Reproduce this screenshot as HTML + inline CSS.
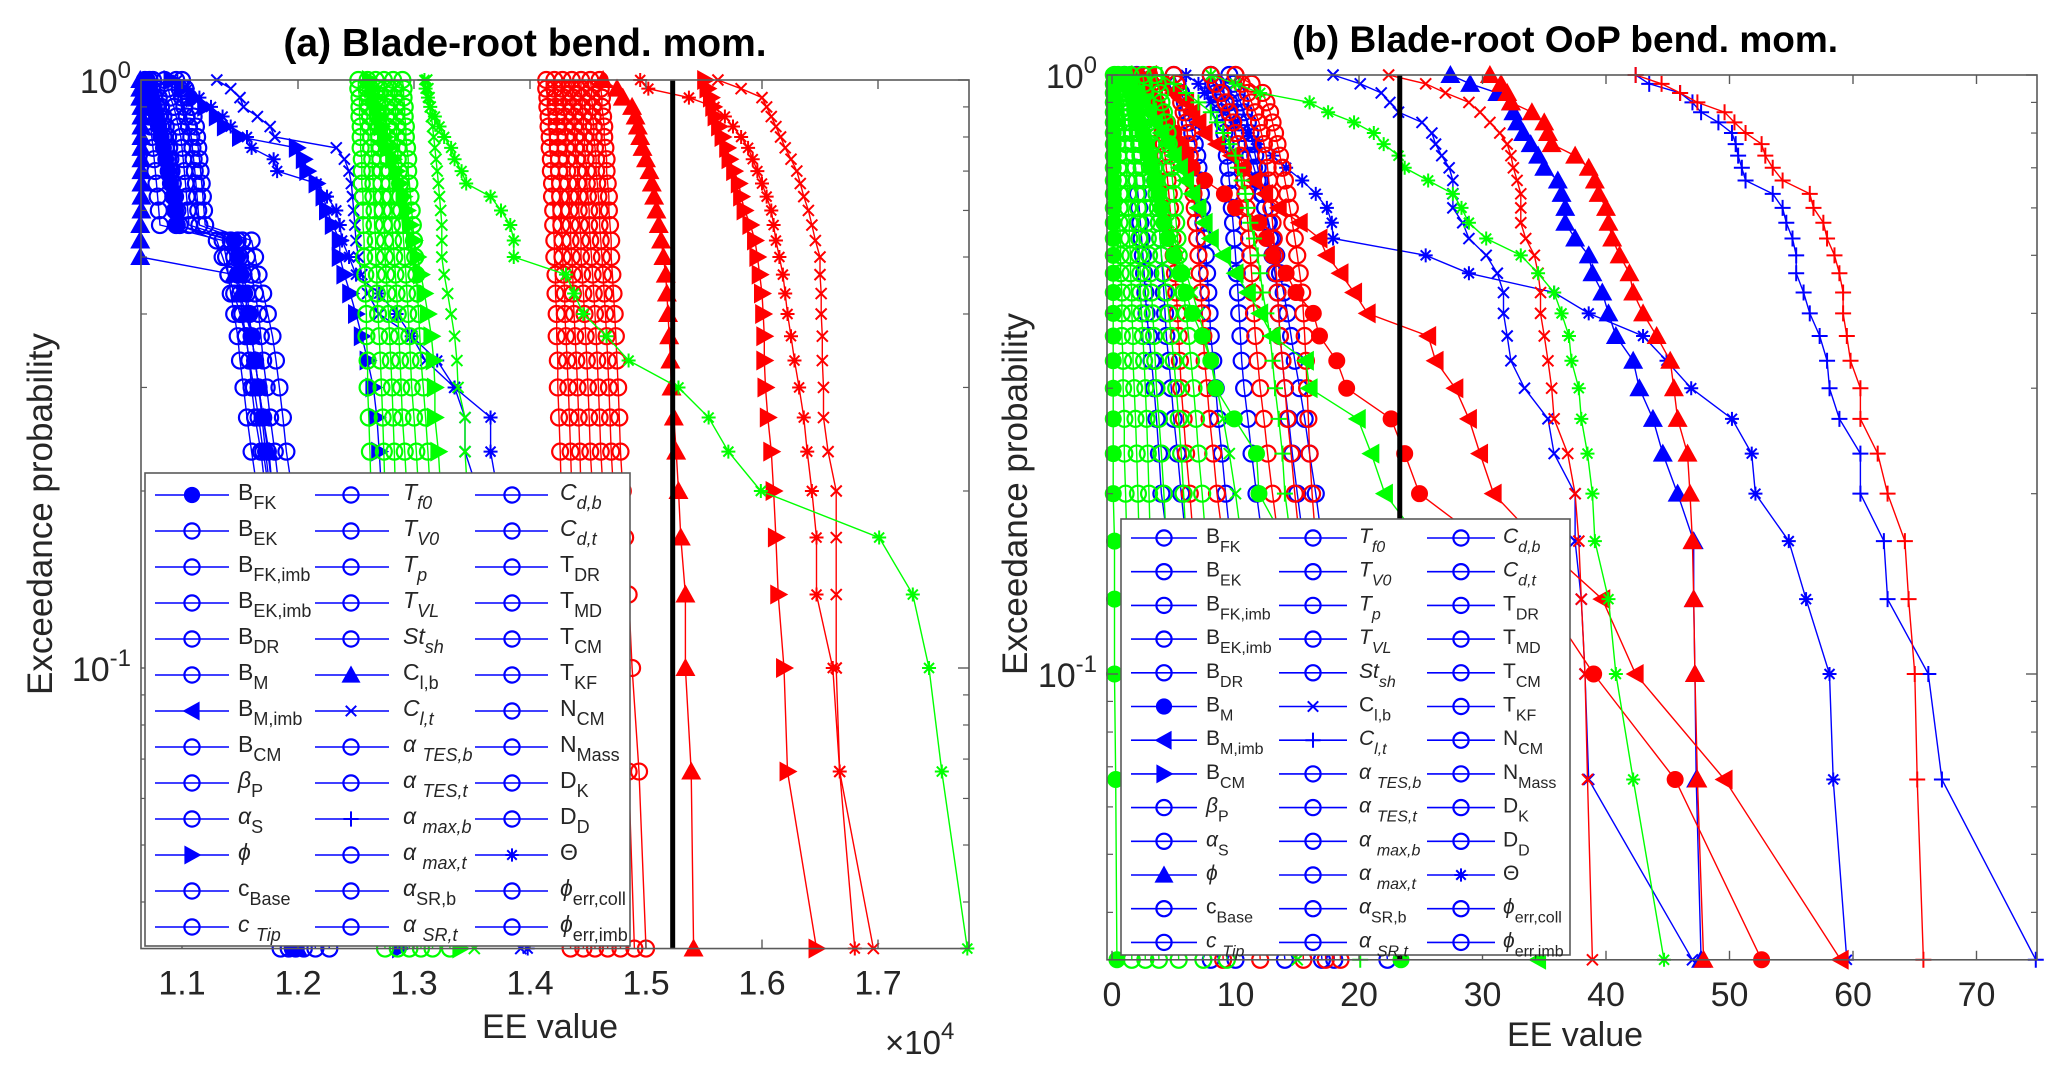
<!DOCTYPE html>
<html><head><meta charset="utf-8"><style>
html,body{margin:0;padding:0;background:#fff;}
svg{display:block;font-family:"Liberation Sans",Arial,sans-serif;}
</style></head><body>
<svg id="fig" width="2067" height="1073" viewBox="0 0 2067 1073" xmlns="http://www.w3.org/2000/svg">
<rect x="0" y="0" width="2067" height="1073" fill="#fff"/>
<g id="left-panel"></g>
<g id="right-panel"></g>
</svg>
<script>
// ---------- DATA: left panel (a), values x1e4, sorted ascending (p = 1 .. 1/30) ----------
const probLevels = [30,29,28,27,26,25,24,23,22,21,20,19,18,17,16,15,14,13,12,11,10,9,8,7,6,5,4,3,2,1];
const leftXTicks = [1.1,1.2,1.3,1.4,1.5,1.6,1.7];
const leftXTickLabels = ["1.1","1.2","1.3","1.4","1.5","1.6","1.7"];
const leftThreshold = 1.523;
const aBlueC1 = [1.068,1.069,1.070,1.071,1.072,1.073,1.074,1.075,1.076,1.077,1.078,1.079,1.080,1.081,1.135,1.138,1.140,1.142,1.145,1.148,1.150,1.153,1.156,1.160,1.165,1.170,1.175,1.180,1.182,1.185];
const aBlueC2 = [1.075,1.078,1.080,1.082,1.084,1.086,1.088,1.089,1.090,1.091,1.092,1.093,1.094,1.095,1.142,1.145,1.148,1.150,1.152,1.155,1.158,1.160,1.163,1.168,1.172,1.176,1.180,1.185,1.188,1.192];
const aBlueC3 = [1.085,1.088,1.090,1.093,1.095,1.097,1.099,1.100,1.101,1.102,1.103,1.104,1.105,1.106,1.148,1.150,1.153,1.156,1.158,1.160,1.163,1.166,1.170,1.174,1.178,1.182,1.186,1.190,1.195,1.205];
const aBlueC4 = [1.095,1.098,1.100,1.102,1.104,1.106,1.108,1.109,1.110,1.111,1.112,1.113,1.114,1.115,1.152,1.156,1.160,1.163,1.166,1.168,1.170,1.173,1.176,1.180,1.184,1.188,1.192,1.196,1.205,1.215];
const aBlueC5 = [1.072,1.074,1.076,1.078,1.080,1.082,1.084,1.086,1.088,1.090,1.092,1.094,1.096,1.098,1.130,1.135,1.140,1.145,1.150,1.155,1.158,1.162,1.166,1.170,1.175,1.180,1.184,1.188,1.192,1.198];
const aBlueC6 = [1.100,1.103,1.106,1.108,1.110,1.112,1.113,1.114,1.115,1.116,1.117,1.118,1.119,1.120,1.160,1.163,1.166,1.170,1.174,1.178,1.181,1.184,1.187,1.190,1.195,1.200,1.205,1.210,1.218,1.227];
const aBlueFilled = [1.070,1.072,1.074,1.076,1.078,1.080,1.082,1.084,1.086,1.088,1.090,1.092,1.094,1.096,1.145,1.148,1.151,1.154,1.157,1.160,1.163,1.166,1.169,1.172,1.176,1.180,1.184,1.188,1.191,1.195];
const aBlueTri = [1.064,1.064,1.064,1.065,1.065,1.065,1.065,1.065,1.065,1.065,1.065,1.065,1.065,1.064,1.064,1.064,1.145,1.150,1.155,1.160,1.163,1.166,1.170,1.175,1.178,1.182,1.186,1.190,1.195,1.200];
const aBlueX = [1.130,1.142,1.150,1.153,1.165,1.176,1.180,1.233,1.240,1.244,1.246,1.247,1.248,1.249,1.250,1.252,1.255,1.260,1.270,1.298,1.310,1.335,1.344,1.344,1.355,1.365,1.370,1.375,1.380,1.392];
const aBlueStar = [1.096,1.105,1.115,1.125,1.135,1.142,1.156,1.160,1.179,1.182,1.216,1.225,1.233,1.236,1.238,1.244,1.250,1.270,1.285,1.298,1.320,1.335,1.366,1.366,1.372,1.378,1.383,1.388,1.392,1.398];
const aBlueRight = [1.091,1.100,1.110,1.120,1.130,1.137,1.150,1.199,1.205,1.208,1.216,1.222,1.225,1.230,1.236,1.236,1.240,1.245,1.250,1.255,1.260,1.265,1.268,1.270,1.272,1.275,1.278,1.280,1.283,1.288];
const aGreenC1 = [1.252,1.252,1.253,1.253,1.253,1.254,1.254,1.254,1.255,1.255,1.255,1.256,1.256,1.256,1.257,1.257,1.258,1.258,1.259,1.259,1.260,1.260,1.261,1.262,1.263,1.264,1.265,1.267,1.270,1.275];
const aGreenC2 = [1.260,1.260,1.261,1.261,1.262,1.262,1.263,1.263,1.264,1.264,1.265,1.265,1.266,1.266,1.267,1.267,1.268,1.268,1.269,1.270,1.271,1.272,1.273,1.274,1.275,1.276,1.278,1.280,1.282,1.286];
const aGreenC3 = [1.267,1.268,1.268,1.269,1.269,1.270,1.270,1.271,1.271,1.272,1.272,1.273,1.273,1.274,1.275,1.275,1.276,1.277,1.278,1.279,1.280,1.281,1.282,1.283,1.284,1.286,1.288,1.290,1.292,1.296];
const aGreenC4 = [1.274,1.275,1.275,1.276,1.276,1.277,1.277,1.278,1.278,1.279,1.279,1.280,1.281,1.281,1.282,1.283,1.284,1.285,1.286,1.287,1.288,1.289,1.290,1.292,1.294,1.296,1.298,1.300,1.302,1.306];
const aGreenC5 = [1.282,1.283,1.283,1.284,1.284,1.285,1.285,1.286,1.286,1.287,1.288,1.288,1.289,1.290,1.291,1.292,1.293,1.294,1.295,1.296,1.297,1.298,1.300,1.302,1.304,1.306,1.308,1.310,1.312,1.316];
const aGreenC6 = [1.290,1.291,1.291,1.292,1.292,1.293,1.293,1.294,1.295,1.295,1.296,1.297,1.298,1.299,1.300,1.301,1.302,1.303,1.304,1.305,1.306,1.308,1.310,1.312,1.314,1.316,1.318,1.321,1.325,1.331];
const aGreenRight = [1.262,1.264,1.266,1.268,1.270,1.272,1.275,1.278,1.282,1.285,1.288,1.291,1.294,1.297,1.300,1.303,1.306,1.309,1.312,1.315,1.317,1.318,1.318,1.321,1.323,1.325,1.327,1.330,1.334,1.340];
const aGreenX = [1.311,1.312,1.313,1.314,1.315,1.316,1.317,1.318,1.319,1.320,1.321,1.322,1.323,1.324,1.324,1.324,1.326,1.329,1.332,1.335,1.337,1.338,1.344,1.344,1.346,1.347,1.348,1.349,1.350,1.352];
const aGreenStar = [1.309,1.310,1.312,1.314,1.318,1.322,1.326,1.332,1.335,1.341,1.345,1.366,1.375,1.383,1.386,1.386,1.431,1.438,1.446,1.466,1.485,1.528,1.554,1.571,1.599,1.701,1.730,1.744,1.755,1.777];
const aRedC1 = [1.414,1.414,1.415,1.415,1.416,1.416,1.417,1.417,1.418,1.418,1.419,1.419,1.420,1.420,1.421,1.421,1.422,1.422,1.423,1.423,1.424,1.424,1.425,1.426,1.427,1.428,1.429,1.430,1.432,1.435];
const aRedC2 = [1.421,1.421,1.422,1.422,1.423,1.423,1.424,1.424,1.425,1.425,1.426,1.426,1.427,1.427,1.428,1.428,1.429,1.430,1.430,1.431,1.432,1.433,1.434,1.435,1.436,1.437,1.438,1.440,1.442,1.446];
const aRedC3 = [1.428,1.428,1.429,1.429,1.430,1.430,1.431,1.431,1.432,1.432,1.433,1.434,1.434,1.435,1.435,1.436,1.437,1.437,1.438,1.439,1.440,1.441,1.442,1.443,1.444,1.446,1.448,1.450,1.452,1.456];
const aRedC4 = [1.436,1.436,1.437,1.437,1.438,1.438,1.439,1.439,1.440,1.441,1.441,1.442,1.442,1.443,1.444,1.444,1.445,1.446,1.447,1.448,1.449,1.450,1.451,1.452,1.454,1.456,1.458,1.460,1.463,1.467];
const aRedC5 = [1.444,1.444,1.445,1.445,1.446,1.446,1.447,1.447,1.448,1.449,1.449,1.450,1.451,1.451,1.452,1.453,1.454,1.455,1.456,1.457,1.458,1.459,1.460,1.461,1.463,1.465,1.467,1.470,1.474,1.478];
const aRedC6 = [1.452,1.453,1.453,1.454,1.454,1.455,1.455,1.456,1.457,1.457,1.458,1.459,1.460,1.460,1.461,1.462,1.463,1.464,1.465,1.466,1.467,1.468,1.469,1.470,1.472,1.474,1.476,1.479,1.485,1.490];
const aRedC7 = [1.460,1.461,1.462,1.462,1.463,1.464,1.464,1.465,1.466,1.466,1.467,1.468,1.468,1.469,1.470,1.470,1.471,1.472,1.473,1.474,1.475,1.476,1.477,1.478,1.480,1.482,1.485,1.488,1.494,1.500];
const aRedTri = [1.463,1.475,1.480,1.488,1.491,1.493,1.495,1.497,1.500,1.503,1.505,1.507,1.509,1.511,1.513,1.515,1.517,1.518,1.519,1.520,1.521,1.522,1.524,1.526,1.528,1.530,1.534,1.534,1.539,1.541];
const aRedRight = [1.551,1.553,1.556,1.558,1.560,1.563,1.566,1.570,1.572,1.576,1.580,1.582,1.585,1.590,1.594,1.596,1.598,1.600,1.601,1.602,1.602,1.603,1.605,1.608,1.610,1.612,1.614,1.619,1.622,1.647];
const aRedStar = [1.495,1.502,1.537,1.559,1.568,1.575,1.582,1.588,1.592,1.596,1.600,1.604,1.608,1.610,1.612,1.615,1.618,1.620,1.622,1.625,1.628,1.632,1.636,1.639,1.643,1.647,1.647,1.661,1.667,1.680];
const aRedX = [1.562,1.582,1.600,1.604,1.608,1.612,1.616,1.620,1.625,1.630,1.633,1.636,1.640,1.643,1.646,1.650,1.650,1.651,1.651,1.652,1.652,1.653,1.653,1.657,1.664,1.664,1.664,1.664,1.667,1.696];

// ---------- DATA: right panel (b) ----------
const rightXTicks = [0,10,20,30,40,50,60,70];
const rightXTickLabels = ["0","10","20","30","40","50","60","70"];
const rightThreshold = 23.3;
const bBlueC1 = [1.0,1.1,1.2,1.3,1.4,1.5,1.6,1.7,1.8,1.9,2.0,2.1,2.2,2.3,2.4,2.5,2.6,2.7,2.8,3.0,3.2,3.4,3.6,3.8,4.0,4.5,5.0,5.5,6.5,8.0];
const bBlueC2 = [2.0,2.2,2.4,2.6,2.8,3.0,3.1,3.2,3.3,3.4,3.5,3.6,3.7,3.8,3.9,4.0,4.1,4.2,4.3,4.4,4.6,4.8,5.0,5.3,5.6,6.0,6.5,7.2,8.5,10.0];
const bBlueC3 = [5.0,5.3,5.6,5.9,6.1,6.3,6.5,6.7,6.9,7.0,7.1,7.2,7.3,7.4,7.5,7.6,7.7,7.8,7.9,8.0,8.2,8.4,8.6,8.9,9.2,9.6,10.2,11.0,12.5,14.0];
const bBlueC4 = [8.0,8.2,8.4,8.6,8.8,9.0,9.1,9.2,9.3,9.4,9.5,9.6,9.7,9.8,9.9,10.0,10.1,10.2,10.3,10.4,10.5,10.7,11.0,11.3,11.7,12.2,13.0,14.0,15.5,17.0];
const bBlueC5 = [9.5,9.8,10.1,10.4,10.7,11.0,11.2,11.4,11.6,11.8,12.0,12.2,12.4,12.6,12.8,13.0,13.2,13.4,13.5,13.6,13.8,14.0,14.3,14.6,15.0,15.5,16.0,16.8,17.5,18.0];
const bBlueC6 = [8.0,8.5,9.0,9.5,10.0,10.3,10.6,10.9,11.2,11.5,11.8,12.1,12.4,12.7,13.0,13.3,13.6,13.9,14.2,14.5,14.8,15.2,15.6,16.0,16.5,17.0,18.0,19.5,21.0,22.3];
const bBlueX = [17.9,20.1,21.8,22.5,23.2,25.1,25.9,26.2,26.7,27.3,27.6,27.6,27.6,28.4,28.9,30.3,31.2,31.7,31.7,32.0,32.3,33.4,35.3,35.8,37.5,37.5,38.0,38.3,38.6,47.0];
const bBlueTri = [27.4,29.0,31.2,32.3,32.5,32.8,33.3,33.9,34.5,35.0,36.1,36.4,36.7,36.7,37.5,38.6,38.9,39.7,40.2,40.8,42.2,42.7,43.8,44.6,45.8,47.1,47.1,47.2,47.3,47.7];
const bBlueStar = [6,7,7.5,8,9,10,11,11.8,13,14.1,15.4,16.5,17.4,17.8,17.9,25.4,28.9,35.8,38.6,43,44.9,46.9,50.2,51.8,52.1,54.8,56.2,58.1,58.4,59.5];
const bBluePlus = [42.4,43.5,46.0,47.0,47.7,49.1,50.2,50.5,50.7,51.0,51.3,53.5,54.3,54.6,55.1,55.4,55.4,56.0,56.5,57.3,57.9,58.1,58.9,60.6,60.6,62.5,62.8,66.1,67.2,74.8];
const bRedC1 = [3.0,3.2,3.4,3.6,3.8,4.0,4.1,4.2,4.3,4.4,4.5,4.6,4.7,4.8,4.9,5.0,5.1,5.2,5.3,5.4,5.5,5.6,5.8,6.0,6.3,6.6,7.0,7.6,8.3,9.0];
const bRedC2 = [5.0,5.2,5.4,5.6,5.8,6.0,6.1,6.2,6.3,6.4,6.5,6.6,6.7,6.8,6.9,7.0,7.1,7.2,7.3,7.4,7.5,7.7,7.9,8.2,8.5,9.0,9.6,10.4,11.2,12.0];
const bRedC3 = [8.0,8.4,8.8,9.2,9.5,9.8,10.0,10.2,10.4,10.6,10.7,10.8,10.9,11.0,11.1,11.2,11.3,11.4,11.5,11.6,11.8,12.0,12.3,12.6,13.0,13.5,14.0,14.5,15.0,15.5];
const bRedC4 = [10.0,10.5,11.0,11.3,11.6,11.9,12.1,12.3,12.5,12.6,12.7,12.8,12.9,13.0,13.1,13.2,13.3,13.4,13.5,13.6,13.8,14.0,14.2,14.5,14.8,15.2,15.7,16.2,16.8,17.3];
const bRedC5 = [10.0,11.3,12.2,12.5,12.8,13.0,13.2,13.4,13.6,13.8,14.0,14.2,14.4,14.6,14.8,15.0,15.2,15.4,15.5,15.6,15.7,15.8,15.9,16.0,16.2,16.5,16.9,17.4,18.0,18.5];
const bRedX = [22.4,25.4,27.0,28.9,29.8,30.6,31.4,32.0,32.3,32.5,32.8,33.1,33.1,33.1,33.5,34.2,34.5,34.7,34.7,35.0,35.3,35.6,35.8,36.9,37.5,37.8,38.0,38.3,38.5,38.9];
const bRedTri = [30.6,31.5,32.0,32.3,34.0,35.0,35.3,35.6,37.5,38.6,39.1,39.4,40.0,40.2,40.5,41.1,41.9,42.2,43.0,44.1,45.2,45.5,45.8,46.6,46.8,47.0,47.1,47.2,47.4,47.9];
const bRedLeft = [3,4,5,6,6.5,7,7.5,8.5,9.7,10.5,11.5,12.4,13.5,15.2,16.8,17.4,18.5,19.6,20.7,25.6,26.2,27.8,28.9,29.8,30.9,34.5,39.7,42.4,49.6,59.0];
const bRedFilled = [2,2.5,3,3.5,4,4.5,5,5.5,6,6.5,7.5,9.1,10,11.9,12.5,13,14.1,14.9,16.3,16.8,18.2,19,22.6,23.7,24.9,30,35,39.0,45.6,52.6];
const bRedPlus = [42.4,44.5,46.0,47.4,49.6,50.4,51.3,52.6,52.9,53.5,54.3,56.5,56.8,57.6,57.9,58.5,58.9,59.2,59.2,59.5,59.8,60.6,60.6,62.0,62.8,64.2,64.5,65.0,65.2,65.7];
const bGreenC1 = [0.2,0.2,0.3,0.3,0.3,0.4,0.4,0.4,0.5,0.5,0.5,0.6,0.6,0.6,0.7,0.7,0.7,0.8,0.8,0.8,0.9,0.9,1.0,1.0,1.1,1.2,1.3,1.4,1.5,1.6];
const bGreenC2 = [0.5,0.6,0.7,0.8,0.9,1.0,1.0,1.1,1.1,1.2,1.2,1.3,1.3,1.4,1.4,1.5,1.5,1.6,1.6,1.7,1.7,1.8,1.9,2.0,2.1,2.2,2.3,2.4,2.5,2.7];
const bGreenC3 = [1.0,1.1,1.2,1.3,1.4,1.5,1.6,1.7,1.8,1.9,2.0,2.0,2.1,2.1,2.2,2.2,2.3,2.3,2.4,2.5,2.6,2.7,2.8,2.9,3.0,3.1,3.2,3.3,3.5,3.8];
const bGreenC4 = [1.5,1.6,1.7,1.8,1.9,2.0,2.1,2.2,2.3,2.4,2.5,2.6,2.7,2.8,2.9,3.0,3.1,3.2,3.3,3.4,3.5,3.6,3.8,4.0,4.2,4.4,4.6,4.8,5.0,5.4];
const bGreenC5 = [2.5,2.6,2.7,2.8,2.9,3.0,3.1,3.2,3.3,3.4,3.5,3.6,3.7,3.8,3.9,4.0,4.2,4.4,4.6,4.8,5.0,5.2,5.4,5.6,5.8,6.0,6.3,6.6,7.0,7.4];
const bGreenC6 = [3.5,3.7,3.9,4.0,4.2,4.4,4.5,4.6,4.7,4.8,4.9,5.0,5.1,5.2,5.3,5.4,5.6,5.8,6.0,6.2,6.4,6.6,6.8,7.0,7.3,7.6,8.0,8.4,8.8,9.3];
const bGreenFilled0 = [0.1,0.1,0.1,0.1,0.1,0.1,0.1,0.1,0.1,0.1,0.1,0.1,0.1,0.1,0.1,0.1,0.1,0.1,0.1,0.1,0.1,0.1,0.1,0.1,0.1,0.2,0.2,0.2,0.3,0.4];
const bGreenFilled = [1,1.2,1.5,1.8,2,2.2,2.5,2.8,3,3.2,3.5,3.8,4,4.2,4.5,5,5.5,6,6.5,7.3,8,8.4,9.9,11.7,11.9,14,16,19,21,23.4];
const bGreenPlus = [4,5,6,7,8,8.5,9,9.5,10,10.2,10.5,10.8,11,11.2,11.5,11.8,12,12.2,12.5,12.8,13,13.2,13.5,13.8,14,14.5,15,16,17,20.1];
const bGreenX = [1,1.5,2,2.2,2.5,2.8,3,3.2,3.4,3.6,3.8,4,4.3,4.6,5,5.5,6,6.5,7,7.5,8,8.5,9,9.5,10,10.5,11,12,13,15];
const bGreenLeft = [1,1.5,2,2.5,3,3.5,4,4.5,5,5.5,6,6.5,7,7.5,8,9,10,11,12,13,15.7,16,19.9,21,22.1,25,28,31,33,34.5];
const bGreenStar = [8,10,12,16,17.5,19.6,21.2,22,23.2,23.7,25.6,27.6,28.3,28.9,30.3,33.1,34.5,35.8,36.4,37,37.2,37.8,38,38.5,38.9,39.1,40.2,40.8,42.2,44.7];

const BLUE="#0000ff", RED="#ff0000", GREEN="#00ff00";
const SVGNS="http://www.w3.org/2000/svg";

function el(tag, attrs, parent){
  const e=document.createElementNS(SVGNS,tag);
  for(const k in attrs) e.setAttribute(k, attrs[k]);
  if(parent) parent.appendChild(e);
  return e;
}

// ---------- axis functions ----------
const L = {x0:141, x1:969, top:80, dec:588,
  xs:function(v){return 182+(v-1.1)*1160;},
  ys:function(p){return 80-Math.log10(p)*588;}};
const R = {x0:1107, x1:2037, top:75, dec:599,
  xs:function(v){return 1112+v*12.35;},
  ys:function(p){return 75-Math.log10(p)*599;}};
L.bottom = L.ys(1/30); R.bottom = R.ys(1/30);

function drawMarker(g, m, x, y, c, s){
  s = s||1;
  let e;
  if(m==='o'){ e=el('circle',{cx:x,cy:y,r:8*s,fill:'none',stroke:c,'stroke-width':2.2},g); }
  else if(m==='of'){ e=el('circle',{cx:x,cy:y,r:8*s,fill:c,stroke:c,'stroke-width':1},g); }
  else if(m==='^'){ const h=10*s; e=el('polygon',{points:`${x},${y-h} ${x-h},${y+h*0.8} ${x+h},${y+h*0.8}`,fill:c},g); }
  else if(m==='>'){ const h=10*s; e=el('polygon',{points:`${x+h},${y} ${x-h*0.8},${y-h} ${x-h*0.8},${y+h}`,fill:c},g); }
  else if(m==='<'){ const h=10*s; e=el('polygon',{points:`${x-h},${y} ${x+h*0.8},${y-h} ${x+h*0.8},${y+h}`,fill:c},g); }
  else if(m==='x'){ const h=5.5*s; e=el('path',{d:`M${x-h},${y-h}L${x+h},${y+h}M${x-h},${y+h}L${x+h},${y-h}`,stroke:c,'stroke-width':2,fill:'none'},g); }
  else if(m==='+'){ const h=8*s; e=el('path',{d:`M${x-h},${y}L${x+h},${y}M${x},${y-h}L${x},${y+h}`,stroke:c,'stroke-width':2,fill:'none'},g); }
  else if(m==='*'){ const h=7*s, d=5*s; e=el('path',{d:`M${x-h},${y}L${x+h},${y}M${x},${y-h}L${x},${y+h}M${x-d},${y-d}L${x+d},${y+d}M${x-d},${y+d}L${x+d},${y-d}`,stroke:c,'stroke-width':2,fill:'none'},g); }
  return e;
}

function drawSeries(g, ax, vals, color, m, name){
  const sg = el('g',{},g);
  
  
  let d='';
  vals.forEach((v,i)=>{ const p=probLevels[i]/30; d+=(i?'L':'M')+ax.xs(v).toFixed(1)+','+ax.ys(p).toFixed(1); });
  const ln = el('path',{d:d,fill:'none',stroke:color,'stroke-width':1.4},sg);
  
  
  vals.forEach((v,i)=>{ const p=probLevels[i]/30; drawMarker(sg,m,ax.xs(v),ax.ys(p),color); });
}

function drawAxes(g, ax, ticks, labels, side){
  const ag = el('g',{},g);
  
  
  const stroke='#5a5a5a';
  el('rect',{x:ax.x0,y:ax.top,width:ax.x1-ax.x0,height:ax.bottom-ax.top,fill:'none',stroke:stroke,'stroke-width':1.6},ag);
  ticks.forEach((t,i)=>{
    const x=ax.xs(t);
    el('line',{x1:x,y1:ax.bottom,x2:x,y2:ax.bottom-9,stroke:stroke,'stroke-width':1.4},ag);
    el('line',{x1:x,y1:ax.top,x2:x,y2:ax.top+9,stroke:stroke,'stroke-width':1.4},ag);
    const tx = el('text',{x:x,y:ax.bottom+46,'font-size':34,'text-anchor':'middle',fill:'#262626'},ag);
    tx.textContent = labels[i];
    
    
  });
  const minors=[0.04,0.05,0.06,0.07,0.08,0.09,0.2,0.3,0.4,0.5,0.6,0.7,0.8,0.9];
  minors.forEach(p=>{
    const y=ax.ys(p);
    el('line',{x1:ax.x0,y1:y,x2:ax.x0+6,y2:y,stroke:stroke,'stroke-width':1.2},ag);
    el('line',{x1:ax.x1,y1:y,x2:ax.x1-6,y2:y,stroke:stroke,'stroke-width':1.2},ag);
  });
  [[1,'0'],[0.1,'-1']].forEach(([p,ex])=>{
    const y=ax.ys(p);
    el('line',{x1:ax.x0,y1:y,x2:ax.x0+11,y2:y,stroke:stroke,'stroke-width':1.4},ag);
    el('line',{x1:ax.x1,y1:y,x2:ax.x1-11,y2:y,stroke:stroke,'stroke-width':1.4},ag);
    const t = el('text',{x:ax.x0-10,y:y+13,'font-size':34,'text-anchor':'end',fill:'#262626'},ag);
    
    
    const t1=el('tspan',{},t); t1.textContent='10';
    const t2=el('tspan',{dy:-15,'font-size':24},t); t2.textContent=ex;
  });
}

function legendEntry(g, x, y, m, lbl, sub, italicMain, italicSub, sizes){
  const eg = el('g',{},g);
  
  
  el('line',{x1:x.l0,y1:y,x2:x.l1,y2:y,stroke:BLUE,'stroke-width':1.6},eg);
  drawMarker(eg,m,x.m,y,BLUE,0.95);
  const t=el('text',{x:x.t,y:y+5,'font-size':sizes[0],fill:'#262626'},eg);
  const a=el('tspan',{'font-style':italicMain?'italic':'normal'},t); a.textContent=lbl;
  const b=el('tspan',{dy:9,'font-size':sizes[1],'font-style':italicSub?'italic':'normal'},t); b.textContent=sub;
}

const legendCols = [
 [["B","FK",0,0],["B","EK",0,0],["B","FK,imb",0,0],["B","EK,imb",0,0],["B","DR",0,0],["B","M",0,0],["B","M,imb",0,0],["B","CM",0,0],["β","P",1,0],["α","S",1,0],["ϕ","",1,0],["c","Base",0,0],["c ","Tip",1,1]],
 [["T","f0",1,1],["T","V0",1,1],["T","p",1,1],["T","VL",1,1],["St","sh",1,1],["C","l,b",0,0],["C","l,t",1,1],["α ","TES,b",1,1],["α ","TES,t",1,1],["α ","max,b",1,1],["α ","max,t",1,1],["α","SR,b",1,0],["α ","SR,t",1,1]],
 [["C","d,b",1,1],["C","d,t",1,1],["T","DR",0,0],["T","MD",0,0],["T","CM",0,0],["T","KF",0,0],["N","CM",0,0],["N","Mass",0,0],["D","K",0,0],["D","D",0,0],["Θ","",0,0],["ϕ","err,coll",1,0],["ϕ","err,imb",1,0]]
];

function drawLegend(g, box, cols, rowY0, rowDy, markers, sizes, side){
  const lg = el('g',{},g);
  
  
  el('rect',{x:box[0],y:box[1],width:box[2]-box[0],height:box[3]-box[1],fill:'#fff',stroke:'#5a5a5a','stroke-width':1.6},lg);
  legendCols.forEach((col,ci)=>{
    col.forEach((e,ri)=>{
      const m = markers[ci+'-'+ri] || 'o';
      legendEntry(lg, cols[ci], rowY0+ri*rowDy, m, e[0], e[1], e[2], e[3], sizes);
    });
  });
}

function text(g, s, attrs, name){
  const t=el('text',attrs,g); t.textContent=s;
  
  
  return t;
}

// ---------- LEFT PANEL ----------
(function(){
  const g=document.getElementById('left-panel');
  const S=[
   [aBlueC1,BLUE,'o','blue-circle-1'],[aBlueC2,BLUE,'o','blue-circle-2'],[aBlueC3,BLUE,'o','blue-circle-3'],
   [aBlueC4,BLUE,'o','blue-circle-4'],[aBlueC5,BLUE,'o','blue-circle-5'],[aBlueC6,BLUE,'o','blue-circle-6'],
   [aBlueFilled,BLUE,'of','blue-bfk'],[aBlueTri,BLUE,'^','blue-clb'],[aBlueRight,BLUE,'>','blue-phi'],
   [aBlueStar,BLUE,'*','blue-theta'],[aBlueX,BLUE,'x','blue-clt'],
   [aRedC1,RED,'o','red-circle-1'],[aRedC2,RED,'o','red-circle-2'],[aRedC3,RED,'o','red-circle-3'],
   [aRedC4,RED,'o','red-circle-4'],[aRedC5,RED,'o','red-circle-5'],[aRedC6,RED,'o','red-circle-6'],[aRedC7,RED,'o','red-circle-7'],
   [aRedTri,RED,'^','red-clb'],[aRedRight,RED,'>','red-phi'],[aRedStar,RED,'*','red-theta'],[aRedX,RED,'x','red-clt'],
   [aGreenC1,GREEN,'o','green-circle-1'],[aGreenC2,GREEN,'o','green-circle-2'],[aGreenC3,GREEN,'o','green-circle-3'],
   [aGreenC4,GREEN,'o','green-circle-4'],[aGreenC5,GREEN,'o','green-circle-5'],[aGreenC6,GREEN,'o','green-circle-6'],
   [aGreenRight,GREEN,'>','green-phi'],[aGreenX,GREEN,'x','green-clt'],[aGreenStar,GREEN,'*','green-theta']
  ];
  S.forEach(s=>drawSeries(g,L,s[0],s[1],s[2],s[3]));
  const tl = el('line',{x1:L.xs(leftThreshold),y1:L.top,x2:L.xs(leftThreshold),y2:L.bottom,stroke:'#000','stroke-width':5},g);
  
  
  drawAxes(g,L,leftXTicks,leftXTickLabels,'left');
  drawLegend(g,[145,473,630,946],[{l0:155,l1:229,m:192,t:238},{l0:315,l1:389,m:351,t:403},{l0:475,l1:548,m:512,t:560}],
    495,36,{'0-0':'of','0-6':'<','0-10':'>','1-5':'^','1-6':'x','1-9':'+','2-10':'*'},[23,18],'left');
  text(g,'(a) Blade-root bend. mom.',{x:525,y:56,'font-size':39,'font-weight':'bold','text-anchor':'middle',fill:'#000'},'left-title');
  text(g,'EE value',{x:550,y:1038,'font-size':34,'text-anchor':'middle',fill:'#262626'},'left-x-axis-title');
  const ex=el('text',{x:885,y:1054,'font-size':33,fill:'#262626'},g);
  
  
  const e1=el('tspan',{},ex); e1.textContent='×10';
  const e2=el('tspan',{dy:-15,'font-size':24},ex); e2.textContent='4';
  text(g,'Exceedance  probability',{x:0,y:0,'font-size':35,'text-anchor':'middle',fill:'#262626',transform:'translate(52,514) rotate(-90)'},'left-y-axis-title');
})();

// ---------- RIGHT PANEL ----------
(function(){
  const g=document.getElementById('right-panel');
  const S=[
   [bBlueC1,BLUE,'o','blue-circle-1'],[bBlueC2,BLUE,'o','blue-circle-2'],[bBlueC3,BLUE,'o','blue-circle-3'],
   [bBlueC4,BLUE,'o','blue-circle-4'],[bBlueC5,BLUE,'o','blue-circle-5'],[bBlueC6,BLUE,'o','blue-circle-6'],
   [bBlueX,BLUE,'x','blue-clb'],[bBlueTri,BLUE,'^','blue-phi'],[bBlueStar,BLUE,'*','blue-theta'],[bBluePlus,BLUE,'+','blue-clt'],
   [bRedC1,RED,'o','red-circle-1'],[bRedC2,RED,'o','red-circle-2'],[bRedC3,RED,'o','red-circle-3'],
   [bRedC4,RED,'o','red-circle-4'],[bRedC5,RED,'o','red-circle-5'],
   [bRedX,RED,'x','red-clb'],[bRedTri,RED,'^','red-phi'],[bRedLeft,RED,'<','red-bmimb'],[bRedFilled,RED,'of','red-bm'],[bRedPlus,RED,'+','red-clt'],
   [bGreenC1,GREEN,'o','green-circle-1'],[bGreenC2,GREEN,'o','green-circle-2'],[bGreenC3,GREEN,'o','green-circle-3'],
   [bGreenC4,GREEN,'o','green-circle-4'],[bGreenC5,GREEN,'o','green-circle-5'],[bGreenC6,GREEN,'o','green-circle-6'],
   [bGreenX,GREEN,'x','green-clb'],[bGreenPlus,GREEN,'+','green-clt'],[bGreenLeft,GREEN,'<','green-bmimb'],
   [bGreenStar,GREEN,'*','green-theta'],[bGreenFilled,GREEN,'of','green-bm'],[bGreenFilled0,GREEN,'of','green-bfk']
  ];
  S.forEach(s=>drawSeries(g,R,s[0],s[1],s[2],s[3]));
  const tl = el('line',{x1:R.xs(rightThreshold),y1:R.top,x2:R.xs(rightThreshold),y2:R.bottom,stroke:'#000','stroke-width':5},g);
  
  
  drawAxes(g,R,rightXTicks,rightXTickLabels,'right');
  drawLegend(g,[1121,519,1570,955],[{l0:1131,l1:1197,m:1164,t:1206},{l0:1279,l1:1347,m:1313,t:1359},{l0:1427,l1:1495,m:1461,t:1503}],
    538,33.7,{'0-5':'of','0-6':'<','0-7':'>','0-10':'^','1-5':'x','1-6':'+','2-10':'*'},[21,16],'right');
  text(g,'(b) Blade-root OoP bend. mom.',{x:1565,y:52,'font-size':37,'font-weight':'bold','text-anchor':'middle',fill:'#000'},'right-title');
  text(g,'EE value',{x:1575,y:1046,'font-size':34,'text-anchor':'middle',fill:'#262626'},'right-x-axis-title');
  text(g,'Exceedance probability',{x:0,y:0,'font-size':35,'text-anchor':'middle',fill:'#262626',transform:'translate(1027,494) rotate(-90)'},'right-y-axis-title');
})();
</script>
</body></html>
